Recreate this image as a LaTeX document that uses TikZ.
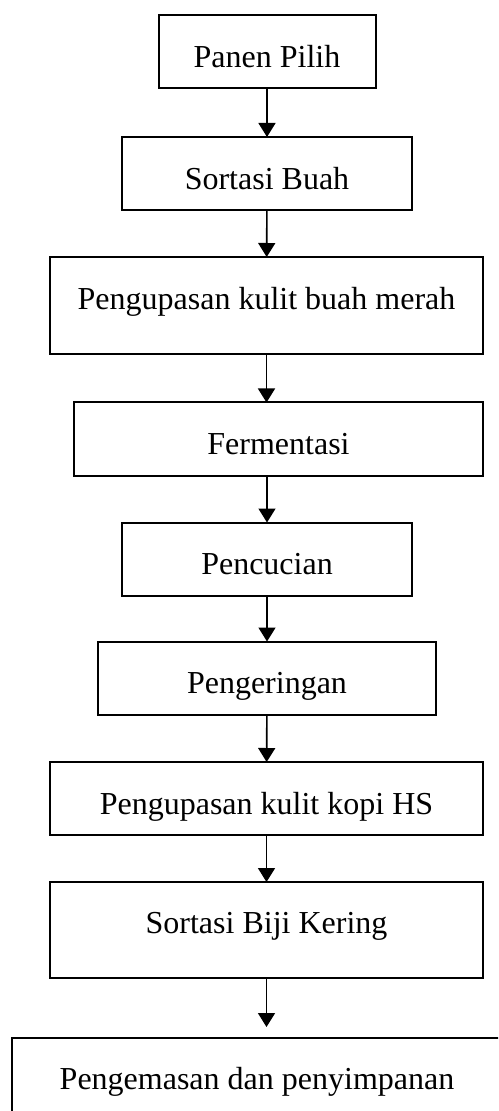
\documentclass[tikz,border=0pt]{standalone}
\usepackage{fontspec}
\setmainfont{Liberation Serif}
\usetikzlibrary{arrows.meta,positioning}
\tikzset{
  all/.style  = {align=center},
  basic/.style  = {all, draw, line width=1pt, rectangle, inner sep=0pt, outer sep=0pt,
                   font=\fontsize{16}{19}\selectfont},
  stepbox/.style = {basic, minimum height=36.5pt, text height=15.6pt, text depth=0pt},
  tallbox/.style = {basic, minimum height=48.5pt, text height=8pt, text depth=4.4pt},
  flow/.style = {line width=0.8pt, -{Triangle[width=8.5pt,length=7pt]}}
}
\begin{document}
\begin{tikzpicture}[x=0.5pt,y=-0.5pt]
\clip (0,0) rectangle (498,1111);
% the process steps, top to bottom
\node[stepbox, minimum width=108.5pt] (panen) at (267,51.5) {Panen Pilih};
\node[stepbox, minimum width=145pt] (sortasi) at (267,173.5) {Sortasi Buah};
\node[tallbox, minimum width=216.5pt] (kupas) at (266.5,305.5) {Pengupasan kulit buah merah};
\node[stepbox, minimum width=204.5pt] (ferment) at (278.5,439) {Fermentasi};
\node[stepbox, minimum width=145pt] (cuci) at (267,559) {Pencucian};
\node[stepbox, minimum width=169pt] (kering) at (267,678) {Pengeringan};
\node[stepbox, minimum width=216.5pt] (kupashs) at (266.5,798.5) {Pengupasan kulit kopi HS};
\node[tallbox, minimum width=216.5pt, minimum height=48pt] (sortbiji) at (266.5,930) {Sortasi Biji Kering};
\node[basic, minimum width=245pt, minimum height=44pt] (kemas) at (257,1082) {Pengemasan dan penyimpanan};

% arrows between the steps
\draw[flow] (panen) -- (sortasi);
\draw[flow] (sortasi) -- (kupas);
\draw[flow] (kupas) -- (kupas |- ferment.north);
\draw[flow] (ferment.south -| cuci) -- (cuci);
\draw[flow] (cuci) -- (kering);
\draw[flow] (kering) -- (kupashs);
\draw[flow] (kupashs) -- (sortbiji);
\path (sortbiji.south) ++(0,49) coordinate (tip);
\draw[flow] (sortbiji) -- (tip);
\end{tikzpicture}
\end{document}
